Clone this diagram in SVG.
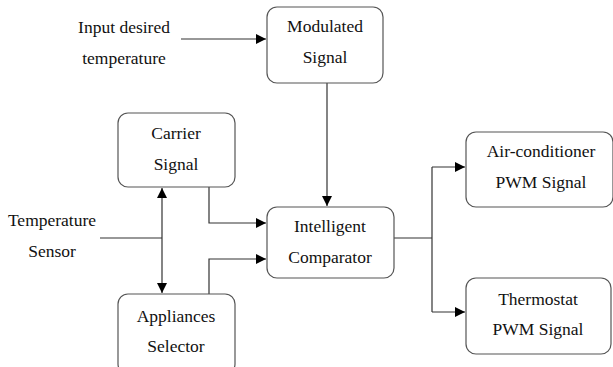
<svg xmlns="http://www.w3.org/2000/svg" width="613" height="367" viewBox="0 0 613 367">
<defs>
<marker id="ah" viewBox="0 0 10 10" refX="10" refY="5" markerWidth="10" markerHeight="10" markerUnits="userSpaceOnUse" orient="auto-start-reverse">
<path d="M0,0 L10,5 L0,10 z" fill="#000"/>
</marker>
<style>
.box{fill:#fff;stroke:#555;stroke-width:1.2}
.t{font-family:'Liberation Serif','Times New Roman',Tinos,'DejaVu Serif',serif;font-size:17.5px;fill:#111;text-anchor:middle}
.c{fill:none;stroke:#333;stroke-width:1.2}
</style>
</defs>
<rect width="613" height="367" fill="#fff"/>
<g id="connectors">
<path class="c" d="M181,39 H266" marker-end="url(#ah)"/>
<path class="c" d="M327,83 V206" marker-end="url(#ah)"/>
<path class="c" d="M209,187 V223 H266" marker-end="url(#ah)"/>
<path class="c" d="M209,294 V259 H266" marker-end="url(#ah)"/>
<path class="c" d="M162,188 V293" marker-start="url(#ah)" marker-end="url(#ah)"/>
<path class="c" d="M100,238 H162"/>
<path class="c" d="M394,238 H432"/>
<path class="c" d="M432,167 V312"/>
<path class="c" d="M432,167 H465" marker-end="url(#ah)"/>
<path class="c" d="M432,312 H465" marker-end="url(#ah)"/>
</g>
<g id="input-desired">
<text class="t" x="124" y="33">Input desired</text>
<text class="t" x="124" y="64">temperature</text>
</g>
<g id="temperature-sensor">
<text class="t" x="52" y="226">Temperature</text>
<text class="t" x="52" y="257">Sensor</text>
</g>
<g id="modulated-signal">
<rect class="box" x="267" y="7" width="116" height="76" rx="10"/>
<text class="t" x="325" y="32">Modulated</text>
<text class="t" x="325" y="63">Signal</text>
</g>
<g id="carrier-signal">
<rect class="box" x="118" y="113" width="117" height="74" rx="10"/>
<text class="t" x="176" y="139">Carrier</text>
<text class="t" x="176" y="170">Signal</text>
</g>
<g id="intelligent-comparator">
<rect class="box" x="267" y="207" width="127" height="71" rx="10"/>
<text class="t" x="330" y="232">Intelligent</text>
<text class="t" x="330" y="263">Comparator</text>
</g>
<g id="appliances-selector">
<rect class="box" x="118" y="294" width="117" height="80" rx="10"/>
<text class="t" x="176" y="322">Appliances</text>
<text class="t" x="176" y="352">Selector</text>
</g>
<g id="air-conditioner">
<rect class="box" x="466" y="132" width="147" height="75" rx="10"/>
<text class="t" x="541" y="157">Air-conditioner</text>
<text class="t" x="541" y="188">PWM Signal</text>
</g>
<g id="thermostat">
<rect class="box" x="466" y="278" width="145" height="76" rx="10"/>
<text class="t" x="538" y="305">Thermostat</text>
<text class="t" x="538" y="335">PWM Signal</text>
</g>
</svg>
